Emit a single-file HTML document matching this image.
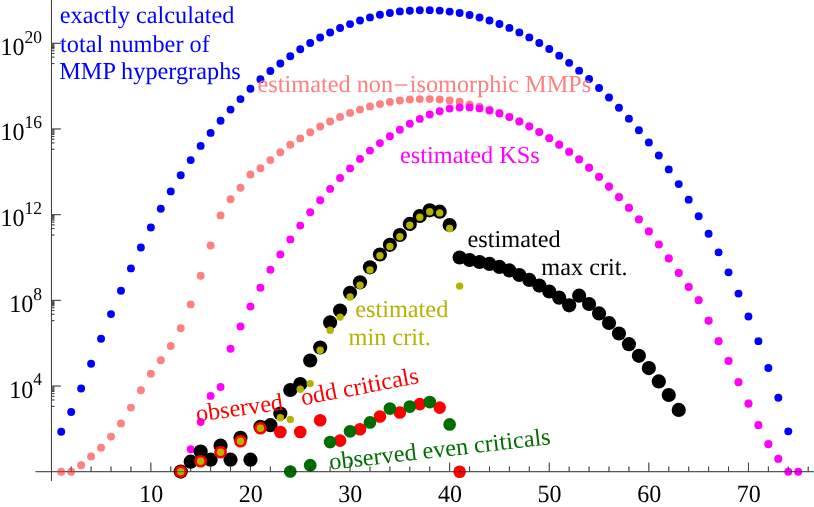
<!DOCTYPE html>
<html><head><meta charset="utf-8"><title>MMP hypergraphs</title>
<style>
html,body{margin:0;padding:0;background:#fff;}
body{width:814px;height:507px;overflow:hidden;}
svg{display:block;will-change:transform;}
text{font-family:"Liberation Serif",serif;text-rendering:geometricPrecision;}
</style></head><body>
<svg width="814" height="507" viewBox="0 0 814 507">
<rect width="814" height="507" fill="#fff"/>
<g stroke="#000" stroke-width="1.0" fill="none" opacity="0.5">
<line x1="35.5" y1="471.7" x2="814" y2="471.7"/>
<line x1="51.46" y1="0" x2="51.46" y2="481"/>
<line x1="71.17" y1="471.7" x2="71.17" y2="466.5"/>
<line x1="91.09" y1="471.7" x2="91.09" y2="466.5"/>
<line x1="111.01" y1="471.7" x2="111.01" y2="466.5"/>
<line x1="130.93" y1="471.7" x2="130.93" y2="466.5"/>
<line x1="150.85" y1="471.7" x2="150.85" y2="462.59999999999997"/>
<line x1="170.77" y1="471.7" x2="170.77" y2="466.5"/>
<line x1="190.69" y1="471.7" x2="190.69" y2="466.5"/>
<line x1="210.61" y1="471.7" x2="210.61" y2="466.5"/>
<line x1="230.53" y1="471.7" x2="230.53" y2="466.5"/>
<line x1="250.45" y1="471.7" x2="250.45" y2="462.59999999999997"/>
<line x1="270.37" y1="471.7" x2="270.37" y2="466.5"/>
<line x1="290.29" y1="471.7" x2="290.29" y2="466.5"/>
<line x1="310.21" y1="471.7" x2="310.21" y2="466.5"/>
<line x1="330.13" y1="471.7" x2="330.13" y2="466.5"/>
<line x1="350.05" y1="471.7" x2="350.05" y2="462.59999999999997"/>
<line x1="369.97" y1="471.7" x2="369.97" y2="466.5"/>
<line x1="389.89" y1="471.7" x2="389.89" y2="466.5"/>
<line x1="409.81" y1="471.7" x2="409.81" y2="466.5"/>
<line x1="429.73" y1="471.7" x2="429.73" y2="466.5"/>
<line x1="449.65" y1="471.7" x2="449.65" y2="462.59999999999997"/>
<line x1="469.57" y1="471.7" x2="469.57" y2="466.5"/>
<line x1="489.49" y1="471.7" x2="489.49" y2="466.5"/>
<line x1="509.41" y1="471.7" x2="509.41" y2="466.5"/>
<line x1="529.33" y1="471.7" x2="529.33" y2="466.5"/>
<line x1="549.25" y1="471.7" x2="549.25" y2="462.59999999999997"/>
<line x1="569.17" y1="471.7" x2="569.17" y2="466.5"/>
<line x1="589.09" y1="471.7" x2="589.09" y2="466.5"/>
<line x1="609.01" y1="471.7" x2="609.01" y2="466.5"/>
<line x1="628.93" y1="471.7" x2="628.93" y2="466.5"/>
<line x1="648.85" y1="471.7" x2="648.85" y2="462.59999999999997"/>
<line x1="668.77" y1="471.7" x2="668.77" y2="466.5"/>
<line x1="688.69" y1="471.7" x2="688.69" y2="466.5"/>
<line x1="708.61" y1="471.7" x2="708.61" y2="466.5"/>
<line x1="728.53" y1="471.7" x2="728.53" y2="466.5"/>
<line x1="748.45" y1="471.7" x2="748.45" y2="462.59999999999997"/>
<line x1="768.37" y1="471.7" x2="768.37" y2="466.5"/>
<line x1="788.29" y1="471.7" x2="788.29" y2="466.5"/>
<line x1="808.21" y1="471.7" x2="808.21" y2="466.5"/>
<line x1="51.46" y1="386.06" x2="60.86" y2="386.06"/>
<line x1="51.46" y1="386.96" x2="54.46" y2="386.96"/>
<line x1="51.46" y1="388.06" x2="54.46" y2="388.06"/>
<line x1="51.46" y1="389.16" x2="54.46" y2="389.16"/>
<line x1="51.46" y1="390.26" x2="54.46" y2="390.26"/>
<line x1="51.46" y1="391.46" x2="54.46" y2="391.46"/>
<line x1="51.46" y1="393.56" x2="54.46" y2="393.56"/>
<line x1="51.46" y1="396.26" x2="54.46" y2="396.26"/>
<line x1="51.46" y1="399.96" x2="54.46" y2="399.96"/>
<line x1="51.46" y1="406.36" x2="54.46" y2="406.36"/>
<line x1="51.46" y1="300.37" x2="60.86" y2="300.37"/>
<line x1="51.46" y1="301.27" x2="54.46" y2="301.27"/>
<line x1="51.46" y1="302.37" x2="54.46" y2="302.37"/>
<line x1="51.46" y1="303.47" x2="54.46" y2="303.47"/>
<line x1="51.46" y1="304.57" x2="54.46" y2="304.57"/>
<line x1="51.46" y1="305.77" x2="54.46" y2="305.77"/>
<line x1="51.46" y1="307.87" x2="54.46" y2="307.87"/>
<line x1="51.46" y1="310.57" x2="54.46" y2="310.57"/>
<line x1="51.46" y1="314.27" x2="54.46" y2="314.27"/>
<line x1="51.46" y1="320.67" x2="54.46" y2="320.67"/>
<line x1="51.46" y1="214.67" x2="60.86" y2="214.67"/>
<line x1="51.46" y1="215.57" x2="54.46" y2="215.57"/>
<line x1="51.46" y1="216.67" x2="54.46" y2="216.67"/>
<line x1="51.46" y1="217.77" x2="54.46" y2="217.77"/>
<line x1="51.46" y1="218.87" x2="54.46" y2="218.87"/>
<line x1="51.46" y1="220.07" x2="54.46" y2="220.07"/>
<line x1="51.46" y1="222.17" x2="54.46" y2="222.17"/>
<line x1="51.46" y1="224.87" x2="54.46" y2="224.87"/>
<line x1="51.46" y1="228.57" x2="54.46" y2="228.57"/>
<line x1="51.46" y1="234.97" x2="54.46" y2="234.97"/>
<line x1="51.46" y1="128.98" x2="60.86" y2="128.98"/>
<line x1="51.46" y1="129.88" x2="54.46" y2="129.88"/>
<line x1="51.46" y1="130.98" x2="54.46" y2="130.98"/>
<line x1="51.46" y1="132.08" x2="54.46" y2="132.08"/>
<line x1="51.46" y1="133.18" x2="54.46" y2="133.18"/>
<line x1="51.46" y1="134.38" x2="54.46" y2="134.38"/>
<line x1="51.46" y1="136.48" x2="54.46" y2="136.48"/>
<line x1="51.46" y1="139.18" x2="54.46" y2="139.18"/>
<line x1="51.46" y1="142.88" x2="54.46" y2="142.88"/>
<line x1="51.46" y1="149.28" x2="54.46" y2="149.28"/>
<line x1="51.46" y1="43.29" x2="60.86" y2="43.29"/>
<line x1="51.46" y1="44.19" x2="54.46" y2="44.19"/>
<line x1="51.46" y1="45.29" x2="54.46" y2="45.29"/>
<line x1="51.46" y1="46.39" x2="54.46" y2="46.39"/>
<line x1="51.46" y1="47.49" x2="54.46" y2="47.49"/>
<line x1="51.46" y1="48.69" x2="54.46" y2="48.69"/>
<line x1="51.46" y1="50.79" x2="54.46" y2="50.79"/>
<line x1="51.46" y1="53.49" x2="54.46" y2="53.49"/>
<line x1="51.46" y1="57.19" x2="54.46" y2="57.19"/>
<line x1="51.46" y1="63.59" x2="54.46" y2="63.59"/>
</g>
<g fill="#0000ff">
<circle cx="61.21" cy="431.70" r="3.95"/>
<circle cx="71.17" cy="412.00" r="3.95"/>
<circle cx="81.13" cy="388.50" r="3.95"/>
<circle cx="91.09" cy="363.80" r="3.95"/>
<circle cx="101.05" cy="338.80" r="3.95"/>
<circle cx="111.01" cy="314.10" r="3.95"/>
<circle cx="120.97" cy="290.80" r="3.95"/>
<circle cx="130.93" cy="268.40" r="3.95"/>
<circle cx="140.89" cy="247.50" r="3.95"/>
<circle cx="150.85" cy="227.50" r="3.95"/>
<circle cx="160.81" cy="208.80" r="3.95"/>
<circle cx="170.77" cy="191.40" r="3.95"/>
<circle cx="180.73" cy="175.30" r="3.95"/>
<circle cx="190.69" cy="160.10" r="3.95"/>
<circle cx="200.65" cy="145.90" r="3.95"/>
<circle cx="210.61" cy="132.90" r="3.95"/>
<circle cx="220.57" cy="120.80" r="3.95"/>
<circle cx="230.53" cy="109.60" r="3.95"/>
<circle cx="240.49" cy="99.10" r="3.95"/>
<circle cx="250.45" cy="88.70" r="3.95"/>
<circle cx="260.41" cy="79.30" r="3.95"/>
<circle cx="270.37" cy="71.00" r="3.95"/>
<circle cx="280.33" cy="63.50" r="3.95"/>
<circle cx="290.29" cy="56.20" r="3.95"/>
<circle cx="300.25" cy="49.30" r="3.95"/>
<circle cx="310.21" cy="43.00" r="3.95"/>
<circle cx="320.17" cy="37.50" r="3.95"/>
<circle cx="330.13" cy="32.50" r="3.95"/>
<circle cx="340.09" cy="28.00" r="3.95"/>
<circle cx="350.05" cy="24.10" r="3.95"/>
<circle cx="360.01" cy="20.50" r="3.95"/>
<circle cx="369.97" cy="17.40" r="3.95"/>
<circle cx="379.93" cy="14.80" r="3.95"/>
<circle cx="389.89" cy="13.00" r="3.95"/>
<circle cx="399.85" cy="11.40" r="3.95"/>
<circle cx="409.81" cy="10.70" r="3.95"/>
<circle cx="419.77" cy="10.30" r="3.95"/>
<circle cx="429.73" cy="10.13" r="3.95"/>
<circle cx="439.69" cy="10.62" r="3.95"/>
<circle cx="449.65" cy="11.60" r="3.95"/>
<circle cx="459.61" cy="13.07" r="3.95"/>
<circle cx="469.57" cy="15.03" r="3.95"/>
<circle cx="479.53" cy="17.50" r="3.95"/>
<circle cx="489.49" cy="20.46" r="3.95"/>
<circle cx="499.45" cy="23.93" r="3.95"/>
<circle cx="509.41" cy="27.90" r="3.95"/>
<circle cx="519.37" cy="32.40" r="3.95"/>
<circle cx="529.33" cy="37.41" r="3.95"/>
<circle cx="539.29" cy="42.96" r="3.95"/>
<circle cx="549.25" cy="49.04" r="3.95"/>
<circle cx="559.21" cy="55.67" r="3.95"/>
<circle cx="569.17" cy="62.87" r="3.95"/>
<circle cx="579.13" cy="70.63" r="3.95"/>
<circle cx="589.09" cy="78.99" r="3.95"/>
<circle cx="599.05" cy="87.95" r="3.95"/>
<circle cx="609.01" cy="97.52" r="3.95"/>
<circle cx="618.97" cy="107.75" r="3.95"/>
<circle cx="628.93" cy="118.63" r="3.95"/>
<circle cx="638.89" cy="130.21" r="3.95"/>
<circle cx="648.85" cy="142.51" r="3.95"/>
<circle cx="658.81" cy="155.56" r="3.95"/>
<circle cx="668.77" cy="169.40" r="3.95"/>
<circle cx="678.73" cy="184.09" r="3.95"/>
<circle cx="688.69" cy="199.66" r="3.95"/>
<circle cx="698.65" cy="216.19" r="3.95"/>
<circle cx="708.61" cy="233.75" r="3.95"/>
<circle cx="718.57" cy="252.42" r="3.95"/>
<circle cx="728.53" cy="272.33" r="3.95"/>
<circle cx="738.49" cy="293.62" r="3.95"/>
<circle cx="748.45" cy="316.48" r="3.95"/>
<circle cx="758.41" cy="341.17" r="3.95"/>
<circle cx="768.37" cy="368.06" r="3.95"/>
<circle cx="778.33" cy="397.75" r="3.95"/>
<circle cx="788.29" cy="431.35" r="3.95"/>
</g>
<g fill="#ff8080">
<circle cx="61.21" cy="471.70" r="3.95"/>
<circle cx="71.17" cy="471.70" r="3.95"/>
<circle cx="81.13" cy="465.20" r="3.95"/>
<circle cx="91.09" cy="456.50" r="3.95"/>
<circle cx="101.05" cy="447.80" r="3.95"/>
<circle cx="111.01" cy="436.60" r="3.95"/>
<circle cx="120.97" cy="423.40" r="3.95"/>
<circle cx="130.93" cy="407.60" r="3.95"/>
<circle cx="140.89" cy="390.30" r="3.95"/>
<circle cx="150.85" cy="373.70" r="3.95"/>
<circle cx="160.81" cy="360.30" r="3.95"/>
<circle cx="170.77" cy="346.00" r="3.95"/>
<circle cx="180.73" cy="328.30" r="3.95"/>
<circle cx="190.69" cy="304.40" r="3.95"/>
<circle cx="200.65" cy="275.80" r="3.95"/>
<circle cx="210.61" cy="245.50" r="3.95"/>
<circle cx="220.57" cy="215.40" r="3.95"/>
<circle cx="230.53" cy="199.20" r="3.95"/>
<circle cx="240.49" cy="187.80" r="3.95"/>
<circle cx="250.45" cy="174.50" r="3.95"/>
<circle cx="260.41" cy="168.20" r="3.95"/>
<circle cx="270.37" cy="160.10" r="3.95"/>
<circle cx="280.33" cy="152.20" r="3.95"/>
<circle cx="290.29" cy="144.70" r="3.95"/>
<circle cx="300.25" cy="138.40" r="3.95"/>
<circle cx="310.21" cy="132.30" r="3.95"/>
<circle cx="320.17" cy="126.50" r="3.95"/>
<circle cx="330.13" cy="121.50" r="3.95"/>
<circle cx="340.09" cy="116.90" r="3.95"/>
<circle cx="350.05" cy="112.90" r="3.95"/>
<circle cx="360.01" cy="109.60" r="3.95"/>
<circle cx="369.97" cy="106.40" r="3.95"/>
<circle cx="379.93" cy="104.10" r="3.95"/>
<circle cx="389.89" cy="101.90" r="3.95"/>
<circle cx="399.85" cy="100.50" r="3.95"/>
<circle cx="409.81" cy="99.50" r="3.95"/>
<circle cx="419.77" cy="99.10" r="3.95"/>
<circle cx="429.73" cy="99.10" r="3.95"/>
<circle cx="439.69" cy="99.50" r="3.95"/>
<circle cx="449.65" cy="100.50" r="3.95"/>
<circle cx="459.61" cy="101.80" r="3.95"/>
<circle cx="469.57" cy="104.40" r="3.95"/>
<circle cx="479.53" cy="106.60" r="3.95"/>
<circle cx="489.49" cy="109.60" r="3.95"/>
<circle cx="499.45" cy="113.00" r="3.95"/>
<circle cx="509.41" cy="116.70" r="3.95"/>
<circle cx="519.37" cy="121.20" r="3.95"/>
<circle cx="529.33" cy="126.10" r="3.95"/>
<circle cx="539.29" cy="131.70" r="3.95"/>
<circle cx="549.25" cy="137.90" r="3.95"/>
<circle cx="559.21" cy="144.40" r="3.95"/>
<circle cx="569.17" cy="151.50" r="3.95"/>
<circle cx="579.13" cy="159.10" r="3.95"/>
<circle cx="589.09" cy="167.40" r="3.95"/>
<circle cx="599.05" cy="176.50" r="3.95"/>
<circle cx="609.01" cy="186.30" r="3.95"/>
<circle cx="618.97" cy="196.80" r="3.95"/>
<circle cx="628.93" cy="207.50" r="3.95"/>
<circle cx="638.89" cy="219.10" r="3.95"/>
<circle cx="648.85" cy="231.10" r="3.95"/>
<circle cx="658.81" cy="244.20" r="3.95"/>
<circle cx="668.77" cy="258.10" r="3.95"/>
<circle cx="678.73" cy="272.60" r="3.95"/>
<circle cx="688.69" cy="286.60" r="3.95"/>
<circle cx="698.65" cy="299.90" r="3.95"/>
<circle cx="708.61" cy="320.40" r="3.95"/>
<circle cx="718.57" cy="340.90" r="3.95"/>
<circle cx="728.53" cy="360.60" r="3.95"/>
<circle cx="738.49" cy="381.90" r="3.95"/>
<circle cx="748.45" cy="403.30" r="3.95"/>
<circle cx="758.41" cy="424.80" r="3.95"/>
<circle cx="768.37" cy="443.90" r="3.95"/>
<circle cx="778.33" cy="458.50" r="3.95"/>
</g>
<g fill="#ff00ff">
<circle cx="190.69" cy="449.30" r="3.95"/>
<circle cx="200.65" cy="422.00" r="3.95"/>
<circle cx="210.61" cy="395.90" r="3.95"/>
<circle cx="220.57" cy="387.00" r="3.95"/>
<circle cx="230.53" cy="348.80" r="3.95"/>
<circle cx="240.49" cy="326.40" r="3.95"/>
<circle cx="250.45" cy="306.50" r="3.95"/>
<circle cx="260.41" cy="287.80" r="3.95"/>
<circle cx="270.37" cy="269.80" r="3.95"/>
<circle cx="280.33" cy="254.40" r="3.95"/>
<circle cx="290.29" cy="239.40" r="3.95"/>
<circle cx="300.25" cy="225.60" r="3.95"/>
<circle cx="310.21" cy="212.20" r="3.95"/>
<circle cx="320.17" cy="200.20" r="3.95"/>
<circle cx="330.13" cy="188.90" r="3.95"/>
<circle cx="340.09" cy="178.00" r="3.95"/>
<circle cx="350.05" cy="168.40" r="3.95"/>
<circle cx="360.01" cy="158.90" r="3.95"/>
<circle cx="369.97" cy="150.60" r="3.95"/>
<circle cx="379.93" cy="143.10" r="3.95"/>
<circle cx="389.89" cy="136.20" r="3.95"/>
<circle cx="399.85" cy="129.70" r="3.95"/>
<circle cx="409.81" cy="123.80" r="3.95"/>
<circle cx="419.77" cy="118.90" r="3.95"/>
<circle cx="429.73" cy="114.50" r="3.95"/>
<circle cx="439.69" cy="111.20" r="3.95"/>
<circle cx="449.65" cy="108.60" r="3.95"/>
<circle cx="459.61" cy="107.50" r="3.95"/>
<circle cx="469.57" cy="107.40" r="3.95"/>
<circle cx="479.53" cy="108.40" r="3.95"/>
<circle cx="489.49" cy="110.50" r="3.95"/>
<circle cx="499.45" cy="113.50" r="3.95"/>
<circle cx="509.41" cy="117.10" r="3.95"/>
<circle cx="519.37" cy="121.60" r="3.95"/>
<circle cx="529.33" cy="126.50" r="3.95"/>
<circle cx="539.29" cy="132.10" r="3.95"/>
<circle cx="549.25" cy="138.30" r="3.95"/>
<circle cx="559.21" cy="144.80" r="3.95"/>
<circle cx="569.17" cy="151.90" r="3.95"/>
<circle cx="579.13" cy="159.50" r="3.95"/>
<circle cx="589.09" cy="167.80" r="3.95"/>
<circle cx="599.05" cy="176.90" r="3.95"/>
<circle cx="609.01" cy="186.70" r="3.95"/>
<circle cx="618.97" cy="197.20" r="3.95"/>
<circle cx="628.93" cy="207.90" r="3.95"/>
<circle cx="638.89" cy="219.50" r="3.95"/>
<circle cx="648.85" cy="231.50" r="3.95"/>
<circle cx="658.81" cy="244.60" r="3.95"/>
<circle cx="668.77" cy="258.50" r="3.95"/>
<circle cx="678.73" cy="273.00" r="3.95"/>
<circle cx="688.69" cy="287.00" r="3.95"/>
<circle cx="698.65" cy="300.30" r="3.95"/>
<circle cx="708.61" cy="320.80" r="3.95"/>
<circle cx="718.57" cy="341.30" r="3.95"/>
<circle cx="728.53" cy="361.00" r="3.95"/>
<circle cx="738.49" cy="382.30" r="3.95"/>
<circle cx="748.45" cy="403.70" r="3.95"/>
<circle cx="758.41" cy="425.20" r="3.95"/>
<circle cx="768.37" cy="444.30" r="3.95"/>
<circle cx="778.33" cy="458.90" r="3.95"/>
<circle cx="788.29" cy="471.70" r="3.95"/>
<circle cx="798.25" cy="471.70" r="3.95"/>
</g>
<g fill="#000">
<circle cx="180.73" cy="471.60" r="7.1"/>
<circle cx="190.69" cy="461.70" r="7.1"/>
<circle cx="200.65" cy="451.60" r="7.1"/>
<circle cx="210.61" cy="459.70" r="7.1"/>
<circle cx="220.57" cy="445.70" r="7.1"/>
<circle cx="230.53" cy="459.70" r="7.1"/>
<circle cx="240.49" cy="437.80" r="7.1"/>
<circle cx="250.45" cy="459.70" r="7.1"/>
<circle cx="260.41" cy="426.80" r="7.1"/>
<circle cx="270.37" cy="425.20" r="7.1"/>
<circle cx="280.33" cy="413.50" r="7.1"/>
<circle cx="290.29" cy="390.00" r="7.1"/>
<circle cx="300.25" cy="384.00" r="7.1"/>
<circle cx="310.21" cy="360.50" r="7.1"/>
<circle cx="320.17" cy="347.50" r="7.1"/>
<circle cx="330.13" cy="322.40" r="7.1"/>
<circle cx="340.09" cy="310.60" r="7.1"/>
<circle cx="350.05" cy="292.80" r="7.1"/>
<circle cx="360.01" cy="282.30" r="7.1"/>
<circle cx="369.97" cy="267.30" r="7.1"/>
<circle cx="379.93" cy="254.50" r="7.1"/>
<circle cx="389.89" cy="244.80" r="7.1"/>
<circle cx="399.85" cy="235.00" r="7.1"/>
<circle cx="409.81" cy="223.90" r="7.1"/>
<circle cx="419.77" cy="216.00" r="7.1"/>
<circle cx="429.73" cy="210.30" r="7.1"/>
<circle cx="439.69" cy="211.70" r="7.1"/>
<circle cx="449.65" cy="225.10" r="7.1"/>
<circle cx="459.61" cy="257.50" r="7.1"/>
<circle cx="469.57" cy="260.00" r="7.1"/>
<circle cx="479.53" cy="262.00" r="7.1"/>
<circle cx="489.49" cy="263.90" r="7.1"/>
<circle cx="499.45" cy="266.90" r="7.1"/>
<circle cx="509.41" cy="270.40" r="7.1"/>
<circle cx="519.37" cy="275.00" r="7.1"/>
<circle cx="529.33" cy="279.90" r="7.1"/>
<circle cx="539.29" cy="285.60" r="7.1"/>
<circle cx="549.25" cy="291.50" r="7.1"/>
<circle cx="559.21" cy="297.70" r="7.1"/>
<circle cx="569.17" cy="305.30" r="7.1"/>
<circle cx="579.13" cy="295.70" r="7.1"/>
<circle cx="589.09" cy="304.00" r="7.1"/>
<circle cx="599.05" cy="313.40" r="7.1"/>
<circle cx="609.01" cy="323.00" r="7.1"/>
<circle cx="618.97" cy="333.50" r="7.1"/>
<circle cx="628.93" cy="344.20" r="7.1"/>
<circle cx="638.89" cy="355.80" r="7.1"/>
<circle cx="648.85" cy="368.10" r="7.1"/>
<circle cx="658.81" cy="381.40" r="7.1"/>
<circle cx="668.77" cy="395.00" r="7.1"/>
<circle cx="678.73" cy="409.90" r="7.1"/>
</g>
<g fill="#ff0000">
<circle cx="180.73" cy="471.60" r="6.3"/>
<circle cx="200.65" cy="461.20" r="6.3"/>
<circle cx="220.57" cy="452.30" r="6.3"/>
<circle cx="240.49" cy="441.20" r="6.3"/>
<circle cx="260.41" cy="428.20" r="6.3"/>
<circle cx="280.33" cy="432.00" r="6.3"/>
<circle cx="300.25" cy="432.00" r="6.3"/>
<circle cx="320.17" cy="420.30" r="6.3"/>
<circle cx="340.09" cy="440.60" r="6.3"/>
<circle cx="360.01" cy="429.30" r="6.3"/>
<circle cx="379.93" cy="416.50" r="6.3"/>
<circle cx="399.85" cy="412.50" r="6.3"/>
<circle cx="419.77" cy="404.10" r="6.3"/>
<circle cx="439.69" cy="407.60" r="6.3"/>
<circle cx="459.61" cy="471.70" r="6.3"/>
</g>
<g fill="#006d00">
<circle cx="290.29" cy="471.50" r="6.35"/>
<circle cx="310.21" cy="465.20" r="6.35"/>
<circle cx="330.13" cy="442.10" r="6.35"/>
<circle cx="350.05" cy="431.30" r="6.35"/>
<circle cx="369.97" cy="422.40" r="6.35"/>
<circle cx="389.89" cy="408.60" r="6.35"/>
<circle cx="409.81" cy="406.60" r="6.35"/>
<circle cx="429.73" cy="402.10" r="6.35"/>
<circle cx="449.65" cy="424.40" r="6.35"/>
</g>
<g fill="#b3b300">
<circle cx="180.73" cy="471.60" r="3.7"/>
<circle cx="200.65" cy="461.20" r="3.7"/>
<circle cx="220.57" cy="452.30" r="3.7"/>
<circle cx="240.49" cy="441.20" r="3.7"/>
<circle cx="260.41" cy="428.20" r="3.7"/>
<circle cx="280.33" cy="417.70" r="3.7"/>
<circle cx="290.29" cy="419.50" r="3.7"/>
<circle cx="300.25" cy="389.20" r="3.7"/>
<circle cx="310.21" cy="383.60" r="3.7"/>
<circle cx="320.17" cy="350.20" r="3.7"/>
<circle cx="330.13" cy="330.30" r="3.7"/>
<circle cx="340.09" cy="317.10" r="3.7"/>
<circle cx="350.05" cy="297.00" r="3.7"/>
<circle cx="360.01" cy="285.30" r="3.7"/>
<circle cx="369.97" cy="269.90" r="3.7"/>
<circle cx="379.93" cy="255.70" r="3.7"/>
<circle cx="389.89" cy="246.40" r="3.7"/>
<circle cx="399.85" cy="236.70" r="3.7"/>
<circle cx="409.81" cy="225.30" r="3.7"/>
<circle cx="419.77" cy="217.20" r="3.7"/>
<circle cx="429.73" cy="211.70" r="3.7"/>
<circle cx="439.69" cy="212.90" r="3.7"/>
<circle cx="449.65" cy="228.50" r="3.7"/>
<circle cx="459.61" cy="286.10" r="3.7"/>
</g>
<g stroke="#000" stroke-width="1.0" fill="none" opacity="0.5">
<line x1="35.5" y1="471.7" x2="814" y2="471.7"/>
<line x1="51.46" y1="0" x2="51.46" y2="481"/>
<line x1="71.17" y1="471.7" x2="71.17" y2="466.5"/>
<line x1="91.09" y1="471.7" x2="91.09" y2="466.5"/>
<line x1="111.01" y1="471.7" x2="111.01" y2="466.5"/>
<line x1="130.93" y1="471.7" x2="130.93" y2="466.5"/>
<line x1="150.85" y1="471.7" x2="150.85" y2="462.59999999999997"/>
<line x1="170.77" y1="471.7" x2="170.77" y2="466.5"/>
<line x1="190.69" y1="471.7" x2="190.69" y2="466.5"/>
<line x1="210.61" y1="471.7" x2="210.61" y2="466.5"/>
<line x1="230.53" y1="471.7" x2="230.53" y2="466.5"/>
<line x1="250.45" y1="471.7" x2="250.45" y2="462.59999999999997"/>
<line x1="270.37" y1="471.7" x2="270.37" y2="466.5"/>
<line x1="290.29" y1="471.7" x2="290.29" y2="466.5"/>
<line x1="310.21" y1="471.7" x2="310.21" y2="466.5"/>
<line x1="330.13" y1="471.7" x2="330.13" y2="466.5"/>
<line x1="350.05" y1="471.7" x2="350.05" y2="462.59999999999997"/>
<line x1="369.97" y1="471.7" x2="369.97" y2="466.5"/>
<line x1="389.89" y1="471.7" x2="389.89" y2="466.5"/>
<line x1="409.81" y1="471.7" x2="409.81" y2="466.5"/>
<line x1="429.73" y1="471.7" x2="429.73" y2="466.5"/>
<line x1="449.65" y1="471.7" x2="449.65" y2="462.59999999999997"/>
<line x1="469.57" y1="471.7" x2="469.57" y2="466.5"/>
<line x1="489.49" y1="471.7" x2="489.49" y2="466.5"/>
<line x1="509.41" y1="471.7" x2="509.41" y2="466.5"/>
<line x1="529.33" y1="471.7" x2="529.33" y2="466.5"/>
<line x1="549.25" y1="471.7" x2="549.25" y2="462.59999999999997"/>
<line x1="569.17" y1="471.7" x2="569.17" y2="466.5"/>
<line x1="589.09" y1="471.7" x2="589.09" y2="466.5"/>
<line x1="609.01" y1="471.7" x2="609.01" y2="466.5"/>
<line x1="628.93" y1="471.7" x2="628.93" y2="466.5"/>
<line x1="648.85" y1="471.7" x2="648.85" y2="462.59999999999997"/>
<line x1="668.77" y1="471.7" x2="668.77" y2="466.5"/>
<line x1="688.69" y1="471.7" x2="688.69" y2="466.5"/>
<line x1="708.61" y1="471.7" x2="708.61" y2="466.5"/>
<line x1="728.53" y1="471.7" x2="728.53" y2="466.5"/>
<line x1="748.45" y1="471.7" x2="748.45" y2="462.59999999999997"/>
<line x1="768.37" y1="471.7" x2="768.37" y2="466.5"/>
<line x1="788.29" y1="471.7" x2="788.29" y2="466.5"/>
<line x1="808.21" y1="471.7" x2="808.21" y2="466.5"/>
<line x1="51.46" y1="386.06" x2="60.86" y2="386.06"/>
<line x1="51.46" y1="386.96" x2="54.46" y2="386.96"/>
<line x1="51.46" y1="388.06" x2="54.46" y2="388.06"/>
<line x1="51.46" y1="389.16" x2="54.46" y2="389.16"/>
<line x1="51.46" y1="390.26" x2="54.46" y2="390.26"/>
<line x1="51.46" y1="391.46" x2="54.46" y2="391.46"/>
<line x1="51.46" y1="393.56" x2="54.46" y2="393.56"/>
<line x1="51.46" y1="396.26" x2="54.46" y2="396.26"/>
<line x1="51.46" y1="399.96" x2="54.46" y2="399.96"/>
<line x1="51.46" y1="406.36" x2="54.46" y2="406.36"/>
<line x1="51.46" y1="300.37" x2="60.86" y2="300.37"/>
<line x1="51.46" y1="301.27" x2="54.46" y2="301.27"/>
<line x1="51.46" y1="302.37" x2="54.46" y2="302.37"/>
<line x1="51.46" y1="303.47" x2="54.46" y2="303.47"/>
<line x1="51.46" y1="304.57" x2="54.46" y2="304.57"/>
<line x1="51.46" y1="305.77" x2="54.46" y2="305.77"/>
<line x1="51.46" y1="307.87" x2="54.46" y2="307.87"/>
<line x1="51.46" y1="310.57" x2="54.46" y2="310.57"/>
<line x1="51.46" y1="314.27" x2="54.46" y2="314.27"/>
<line x1="51.46" y1="320.67" x2="54.46" y2="320.67"/>
<line x1="51.46" y1="214.67" x2="60.86" y2="214.67"/>
<line x1="51.46" y1="215.57" x2="54.46" y2="215.57"/>
<line x1="51.46" y1="216.67" x2="54.46" y2="216.67"/>
<line x1="51.46" y1="217.77" x2="54.46" y2="217.77"/>
<line x1="51.46" y1="218.87" x2="54.46" y2="218.87"/>
<line x1="51.46" y1="220.07" x2="54.46" y2="220.07"/>
<line x1="51.46" y1="222.17" x2="54.46" y2="222.17"/>
<line x1="51.46" y1="224.87" x2="54.46" y2="224.87"/>
<line x1="51.46" y1="228.57" x2="54.46" y2="228.57"/>
<line x1="51.46" y1="234.97" x2="54.46" y2="234.97"/>
<line x1="51.46" y1="128.98" x2="60.86" y2="128.98"/>
<line x1="51.46" y1="129.88" x2="54.46" y2="129.88"/>
<line x1="51.46" y1="130.98" x2="54.46" y2="130.98"/>
<line x1="51.46" y1="132.08" x2="54.46" y2="132.08"/>
<line x1="51.46" y1="133.18" x2="54.46" y2="133.18"/>
<line x1="51.46" y1="134.38" x2="54.46" y2="134.38"/>
<line x1="51.46" y1="136.48" x2="54.46" y2="136.48"/>
<line x1="51.46" y1="139.18" x2="54.46" y2="139.18"/>
<line x1="51.46" y1="142.88" x2="54.46" y2="142.88"/>
<line x1="51.46" y1="149.28" x2="54.46" y2="149.28"/>
<line x1="51.46" y1="43.29" x2="60.86" y2="43.29"/>
<line x1="51.46" y1="44.19" x2="54.46" y2="44.19"/>
<line x1="51.46" y1="45.29" x2="54.46" y2="45.29"/>
<line x1="51.46" y1="46.39" x2="54.46" y2="46.39"/>
<line x1="51.46" y1="47.49" x2="54.46" y2="47.49"/>
<line x1="51.46" y1="48.69" x2="54.46" y2="48.69"/>
<line x1="51.46" y1="50.79" x2="54.46" y2="50.79"/>
<line x1="51.46" y1="53.49" x2="54.46" y2="53.49"/>
<line x1="51.46" y1="57.19" x2="54.46" y2="57.19"/>
<line x1="51.46" y1="63.59" x2="54.46" y2="63.59"/>
</g>
<g fill="#000">
<text transform="translate(151.15 501.5) scale(1 1.035)" text-anchor="middle" font-size="24">10</text>
<text transform="translate(250.75 501.5) scale(1 1.035)" text-anchor="middle" font-size="24">20</text>
<text transform="translate(350.35 501.5) scale(1 1.035)" text-anchor="middle" font-size="24">30</text>
<text transform="translate(449.95 501.5) scale(1 1.035)" text-anchor="middle" font-size="24">40</text>
<text transform="translate(549.55 501.5) scale(1 1.035)" text-anchor="middle" font-size="24">50</text>
<text transform="translate(649.15 501.5) scale(1 1.035)" text-anchor="middle" font-size="24">60</text>
<text transform="translate(748.75 501.5) scale(1 1.035)" text-anchor="middle" font-size="24">70</text>
<text transform="translate(42 397.56) scale(1 1.035)" text-anchor="end" font-size="24">10<tspan font-size="17.5" dy="-11.69">4</tspan></text>
<text transform="translate(42 311.87) scale(1 1.035)" text-anchor="end" font-size="24">10<tspan font-size="17.5" dy="-11.69">8</tspan></text>
<text transform="translate(42 226.17) scale(1 1.035)" text-anchor="end" font-size="24">10<tspan font-size="17.5" dy="-11.69">12</tspan></text>
<text transform="translate(42 140.48) scale(1 1.035)" text-anchor="end" font-size="24">10<tspan font-size="17.5" dy="-11.69">16</tspan></text>
<text transform="translate(42 54.79) scale(1 1.035)" text-anchor="end" font-size="24">10<tspan font-size="17.5" dy="-11.69">20</tspan></text>
</g>
<text x="59.8" y="22.8" font-size="24.3" fill="#0000ff">exactly calculated</text>
<text x="60.0" y="51.8" font-size="24.3" fill="#0000ff">total number of</text>
<text x="59.2" y="78.6" font-size="24.3" fill="#0000ff">MMP hypergraphs</text>
<text x="257.5" y="91.7" font-size="24.3" fill="#ff8080">estimated non<tspan font-size="27" dy="2" dx="0.3">−</tspan><tspan dy="-2" dx="1.0">isomorphic MMPs</tspan></text>
<text x="400.0" y="163.20000000000002" font-size="24.3" fill="#ff00ff">estimated KSs</text>
<text x="467.5" y="247.20000000000002" font-size="24.3" fill="#000">estimated</text>
<text x="541.3" y="275.3" font-size="24.3" fill="#000">max crit.</text>
<text x="355.2" y="316.5" font-size="24.3" fill="#b3b300">estimated</text>
<text x="348.5" y="344.7" font-size="24.3" fill="#b3b300">min crit.</text>
<text x="197.0" y="421.8" font-size="24.3" fill="#ff0000" transform="rotate(-8.0 197.0 421.8)">observed</text>
<text x="302.40000000000003" y="405.4" font-size="24.3" fill="#ff0000" transform="rotate(-10.8 302.40000000000003 405.4)">odd criticals</text>
<text x="330.09999999999997" y="469.8" font-size="24.3" fill="#006d00" transform="rotate(-6.6 330.09999999999997 469.8)">observed even criticals</text>
</svg></body></html>
